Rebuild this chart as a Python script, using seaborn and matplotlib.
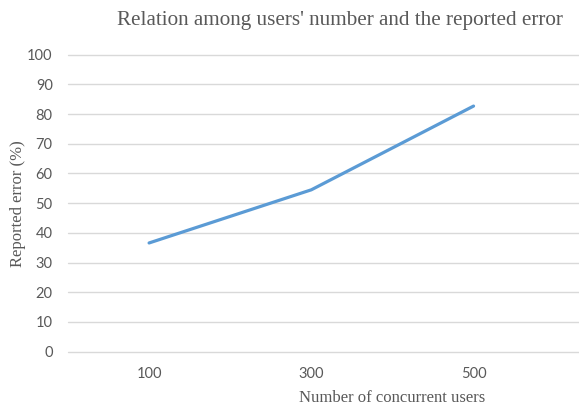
import matplotlib
matplotlib.use("Agg")
import matplotlib.pyplot as plt
import seaborn as sns
import pandas as pd

users = ["100", "300", "500"]
error_pct = [36.6, 54.5, 82.7]
y_ticks = [0, 10, 20, 30, 40, 50, 60, 70, 80, 90, 100]

title = "Relation among users' number and the reported error"
x_label = "Number of concurrent users"
y_label = "Reported error (%)"

sns.set_theme(style="white")
plt.rcParams['font.family'] = ['Lato', 'DejaVu Sans']

df = pd.DataFrame({"users": users, "error": error_pct})

fig = plt.figure(figsize=(5.79, 4.07), dpi=100)
ax = fig.add_axes([0.1174, 0.136, 0.8826, 0.7296])

sns.lineplot(data=df, x="users", y="error", ax=ax, color="#5B9BD5", linewidth=2.3,
             sort=False)

ax.set_ylim(0, 100)
ax.set_xlim(-0.5, 2.65)
ax.set_yticks(y_ticks)
ax.yaxis.grid(True, color="#d9d9d9", linewidth=1.0)
for gl in ax.get_ygridlines():
    gl.set_clip_on(False)
ax.set_axisbelow(True)
for s in ax.spines.values():
    s.set_visible(False)
ax.tick_params(axis="both", length=0, labelsize=10.5, labelcolor="#595959")
ax.tick_params(axis="y", pad=11)
ax.tick_params(axis="x", pad=11)

serif = ['Liberation Serif', 'DejaVu Serif']
ax.set_xlabel(x_label, family=serif, fontsize=12, color="#595959")
ax.set_ylabel(y_label, family=serif, fontsize=12, color="#595959")
ax.xaxis.set_label_coords((392 - 68) / (579 - 68), -0.13)
ax.yaxis.set_label_coords(-0.083, 0.5)
fig.text(340 / 579, 1 - 20 / 407, title, family=serif, fontsize=15.2, color="#595959",
         ha="center", va="center")

fig.savefig("out.png", dpi=100)
